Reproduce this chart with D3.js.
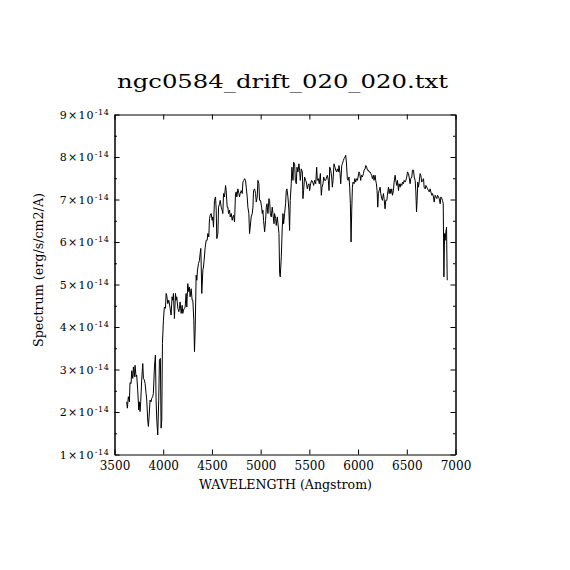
<!DOCTYPE html>
<html><head><meta charset="utf-8">
<script src="https://cdn.jsdelivr.net/npm/d3@7"></script>
<style>body{margin:0;background:#fff} svg{display:block}</style>
</head><body><svg id="c" width="570" height="570"></svg>
<script>
const title = "ngc0584_drift_020_020.txt";
const xLabel = "WAVELENGTH (Angstrom)";
const yLabel = "Spectrum (erg/s/cm2/A)";
const xTicks = [3500, 4000, 4500, 5000, 5500, 6000, 6500, 7000];
const yTicks = [1, 2, 3, 4, 5, 6, 7, 8, 9];
const yMinorTicks = [1.5, 2.5, 3.5, 4.5, 5.5, 6.5, 7.5, 8.5];
const yExponent = "-14";

const wavelength = [3625,3632,3642,3653,3659,3670,3677,3687,3694,3704,3711,3721,3728,3738,3749,3755,3762,3769,3779,3790,3797,3807,3814,3824,3831,3841,3848,3855,3865,3875,3882,3892,3899,3910,3920,3927,3934,3944,3954,3961,3971,3978,3985,3992,4002,4012,4023,4030,4036,4047,4057,4071,4081,4091,4098,4105,4115,4126,4132,4139,4150,4160,4167,4173,4184,4194,4201,4208,4218,4225,4235,4242,4252,4263,4269,4276,4287,4297,4304,4314,4321,4328,4338,4345,4352,4362,4372,4379,4386,4396,4407,4413,4420,4431,4441,4451,4458,4468,4475,4482,4492,4502,4509,4516,4526,4537,4544,4550,4561,4568,4578,4585,4595,4605,4612,4619,4629,4640,4646,4657,4664,4670,4681,4688,4698,4708,4715,4722,4732,4742,4749,4756,4766,4777,4783,4790,4801,4811,4818,4828,4835,4845,4852,4862,4869,4879,4886,4893,4903,4914,4921,4927,4938,4948,4955,4965,4972,4982,4989,4999,5010,5017,5023,5030,5041,5051,5058,5065,5075,5085,5092,5099,5109,5119,5126,5137,5143,5154,5160,5171,5178,5188,5195,5201,5212,5222,5229,5236,5246,5256,5263,5270,5280,5290,5297,5304,5314,5321,5332,5338,5349,5356,5366,5373,5383,5393,5400,5407,5417,5428,5434,5441,5451,5462,5469,5479,5486,5496,5503,5513,5523,5534,5544,5554,5565,5575,5582,5592,5602,5613,5623,5630,5640,5647,5657,5667,5678,5685,5695,5702,5709,5719,5729,5736,5743,5753,5763,5770,5780,5787,5798,5804,5815,5822,5832,5839,5849,5856,5866,5873,5880,5890,5897,5907,5914,5921,5928,5935,5942,5948,5959,5966,5976,5983,5993,6000,6010,6017,6027,6034,6044,6055,6062,6072,6079,6089,6096,6106,6113,6123,6130,6140,6147,6158,6164,6175,6181,6188,6195,6202,6209,6216,6226,6233,6243,6250,6260,6267,6277,6284,6295,6301,6312,6319,6329,6336,6346,6353,6363,6370,6380,6387,6397,6404,6415,6421,6432,6439,6449,6456,6466,6473,6483,6490,6500,6507,6517,6524,6534,6541,6552,6558,6569,6576,6586,6593,6600,6606,6613,6620,6627,6637,6644,6654,6661,6672,6678,6689,6696,6706,6713,6723,6730,6740,6747,6757,6764,6774,6781,6791,6798,6809,6815,6826,6833,6843,6850,6860,6867,6874,6881,6888,6894,6901,6908,6915];

// flux in units of 1e-14 erg/s/cm2/A
const flux = [2.24,2.09,2.36,2.24,2.69,2.67,2.97,2.79,3.06,2.83,3.10,2.83,2.87,2.52,2.05,2.24,2.01,2.24,2.75,3.14,2.79,2.75,2.67,2.44,2.28,1.81,1.66,1.89,2.28,2.24,2.32,2.36,2.44,3.06,3.34,2.28,1.81,1.46,2.28,3.22,3.26,1.62,1.81,3.61,4.16,4.47,4.44,4.79,4.75,4.55,4.63,4.44,4.28,4.71,4.63,4.79,4.20,4.79,4.63,4.71,4.44,4.36,4.44,4.59,4.32,4.51,4.32,4.40,4.44,4.47,4.79,4.47,5.02,4.83,4.94,4.71,4.90,4.63,4.63,4.16,3.42,3.93,5.22,5.10,5.34,5.49,5.57,5.73,5.85,4.79,5.34,5.41,5.57,5.88,6.04,6.04,6.20,6.12,6.55,6.63,6.67,6.51,6.59,6.35,6.98,7.06,6.75,6.08,6.20,6.82,6.90,6.98,6.82,6.75,6.67,7.14,7.06,7.33,7.21,6.82,6.82,6.67,6.75,6.59,6.67,6.51,6.59,6.63,6.47,7.14,7.18,7.06,7.25,7.14,7.06,7.14,7.21,7.14,7.41,7.45,7.49,7.45,7.29,7.06,6.82,6.67,6.20,6.35,6.59,6.67,6.82,7.21,7.25,7.14,6.94,7.06,7.45,7.37,6.98,6.98,6.82,6.67,6.75,6.51,6.24,6.51,6.82,6.90,6.67,7.02,6.98,6.67,6.59,6.82,6.67,6.43,6.67,6.55,6.39,6.59,6.43,6.20,5.26,5.18,5.65,6.35,6.67,6.43,6.67,6.90,7.21,7.25,7.06,6.75,6.27,6.98,7.37,7.76,7.45,7.88,7.84,7.45,7.37,7.76,7.65,7.84,7.69,7.45,7.72,7.65,7.02,7.21,7.53,7.45,7.41,7.25,7.33,7.37,7.21,7.37,7.45,7.41,7.33,7.45,7.37,7.76,7.45,7.49,7.37,7.61,7.10,7.29,7.37,7.53,7.45,7.45,7.53,7.57,7.45,7.21,7.76,7.69,7.53,7.29,7.45,7.84,7.76,7.69,7.65,7.72,7.65,7.80,7.61,7.37,7.80,7.84,7.92,7.96,8.00,8.04,7.88,7.49,7.45,7.53,7.29,6.90,6.00,6.75,7.29,7.41,7.37,7.49,7.41,7.49,7.45,7.53,7.65,7.61,7.45,7.57,7.53,7.61,7.69,7.72,7.80,7.76,7.69,7.69,7.65,7.65,7.61,7.57,7.49,7.57,7.45,7.57,7.45,7.37,7.21,6.82,7.14,7.21,7.29,7.14,7.02,6.98,7.14,7.02,6.78,6.98,6.98,7.10,7.29,7.14,7.25,7.14,7.25,7.10,7.21,7.41,7.57,7.45,7.33,7.45,7.21,7.37,7.29,7.37,7.33,7.41,7.37,7.45,7.41,7.45,7.53,7.65,7.61,7.53,7.37,7.49,7.53,7.69,7.69,7.53,7.45,7.18,6.71,6.98,7.41,7.29,7.41,7.61,7.57,7.41,7.45,7.49,7.29,7.25,7.33,7.29,7.25,7.21,7.18,7.25,7.18,7.10,7.14,7.06,6.94,7.10,7.06,7.02,7.10,7.06,7.02,6.90,7.06,7.02,6.98,6.90,5.18,6.20,6.04,6.24,6.35,5.10];

const FONT = "DejaVu Serif";
const svg = d3.select("#c");
const L = 114.5, R = 455.5, T = 114.5, B = 454.5;
const x = d3.scaleLinear().domain([3500, 7000]).range([L, R]);
const y = d3.scaleLinear().domain([1, 9]).range([B, T]);

function styleAxis(g) {
  g.selectAll("path.domain").attr("stroke", "#000").attr("stroke-width", 1);
  g.selectAll(".tick line").attr("stroke", "#000").attr("stroke-width", 1);
  g.attr("font-family", FONT);
}

// bottom
svg.append("g").attr("transform", `translate(0,${B})`)
  .call(d3.axisBottom(x).tickValues(xTicks).tickSizeInner(-5).tickSizeOuter(0).tickPadding(7).tickFormat(d3.format("d")))
  .call(styleAxis)
  .call(g => g.selectAll("text").attr("font-size", 12).attr("fill", "#000"));
// top
svg.append("g").attr("transform", `translate(0,${T})`)
  .call(d3.axisTop(x).tickValues(xTicks).tickSizeInner(-5).tickSizeOuter(0).tickFormat(""))
  .call(styleAxis);
// left major
svg.append("g").attr("transform", `translate(${L},0)`)
  .call(d3.axisLeft(y).tickValues(yTicks).tickSizeInner(-5).tickSizeOuter(0).tickPadding(5))
  .call(styleAxis)
  .call(g => g.selectAll("text").each(function(d) {
    const t = d3.select(this).text(null).attr("fill", "#000").attr("font-size", 11);
    t.append("tspan").attr("letter-spacing", 1.2).text(d + "\u00d710");
    t.append("tspan").attr("font-size", 8).attr("letter-spacing", 0.6).attr("dy", "-0.45em").text(yExponent);
  }));
// left minor
svg.append("g").attr("transform", `translate(${L},0)`)
  .call(d3.axisLeft(y).tickValues(yMinorTicks).tickSizeInner(-2.5).tickSizeOuter(0).tickFormat(""))
  .call(styleAxis);
// right major
svg.append("g").attr("transform", `translate(${R},0)`)
  .call(d3.axisRight(y).tickValues(yTicks).tickSizeInner(-5).tickSizeOuter(0).tickFormat(""))
  .call(styleAxis);
svg.append("g").attr("transform", `translate(${R},0)`)
  .call(d3.axisRight(y).tickValues(yMinorTicks).tickSizeInner(-2.5).tickSizeOuter(0).tickFormat(""))
  .call(styleAxis);

// spectrum
const pts = wavelength.map((w, i) => [w, flux[i]]);
svg.append("path").datum(pts)
  .attr("fill", "none").attr("stroke", "#000").attr("stroke-width", 1)
  .attr("d", d3.line().x(d => x(d[0])).y(d => y(d[1])));

// titles
svg.append("text").attr("x", 282.5).attr("y", 88).attr("text-anchor", "middle")
  .attr("font-family", FONT).attr("font-size", 18)
  .attr("textLength", 331).attr("lengthAdjust", "spacingAndGlyphs").text(title);
svg.append("text").attr("x", 285.5).attr("y", 489).attr("text-anchor", "middle")
  .attr("font-family", FONT).attr("font-size", 12)
  .attr("textLength", 173).attr("lengthAdjust", "spacingAndGlyphs").text(xLabel);
svg.append("text").attr("transform", "translate(43,270) rotate(-90)").attr("text-anchor", "middle")
  .attr("font-family", FONT).attr("font-size", 12)
  .attr("textLength", 154).attr("lengthAdjust", "spacingAndGlyphs").text(yLabel);
</script></body></html>
